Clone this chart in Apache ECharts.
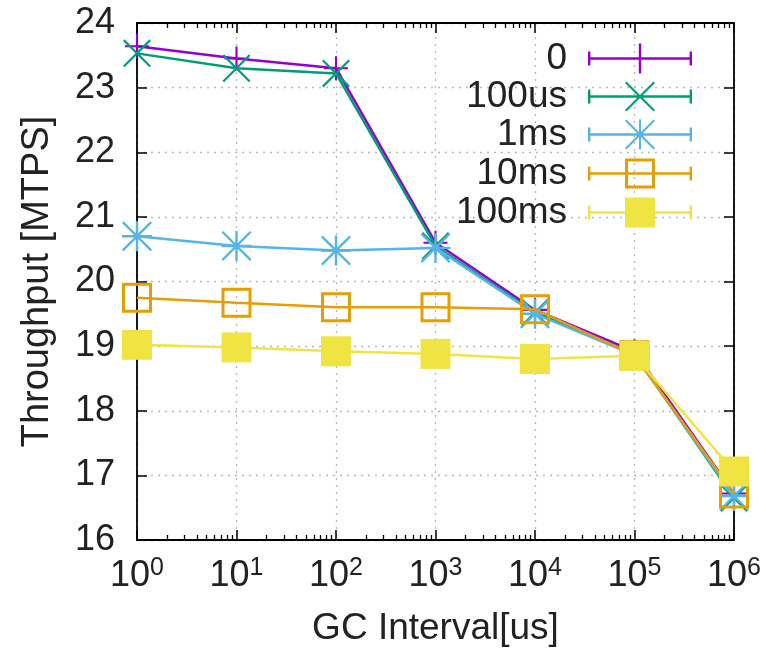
<!DOCTYPE html>
<html><head><meta charset="utf-8">
<script src="https://cdn.jsdelivr.net/npm/echarts@6/dist/echarts.min.js"></script>
<style>html,body{margin:0;padding:0;background:#fff}#c{width:766px;height:659px}</style>
</head><body><div id="c"></div>
<script>
// ---- data ----
const intervals = [1, 10, 100, 1000, 10000, 100000, 1000000];
const seriesNames = ['0', '100us', '1ms', '10ms', '100ms'];
const s0     = [23.64, 23.45, 23.30, 20.60, 19.56, 18.92, 16.72];
const s100us = [23.53, 23.30, 23.22, 20.55, 19.52, 18.88, 16.65];
const s1ms   = [20.70, 20.55, 20.48, 20.52, 19.50, 18.86, 16.68];
const s10ms  = [19.75, 19.67, 19.60, 19.60, 19.57, 18.86, 16.72];
const s100ms = [19.02, 18.98, 18.92, 18.88, 18.80, 18.85, 17.06];
const yTickLabels = [16, 17, 18, 19, 20, 21, 22, 23, 24];
const minorMultipliers = [2, 3, 4, 5, 6, 7, 8, 9];
const colors = ['#9400d3', '#009e73', '#56b4e9', '#e69f00', '#f0e442'];
const seriesValues = [s0, s100us, s1ms, s10ms, s100ms];

const minorTicks = [];
intervals.slice(0, -1).forEach(d => minorMultipliers.forEach(m => minorTicks.push(m * d)));

const FONT = 'Liberation Sans';
const FS = 36;
const TXT = '#222';

const symbols = [
  'path://M9.1,0H10.9V20H9.1ZM0,9.1H20V10.9H0Z',
  'path://M0,1.1L1.1,0L20,18.9L18.9,20ZM18.9,0L20,1.1L1.1,20L0,18.9Z',
  'path://M0,1.1L1.1,0L20,18.9L18.9,20ZM18.9,0L20,1.1L1.1,20L0,18.9ZM9.2,0H10.8V20H9.2ZM0,9.2H20V10.8H0Z',
  'path://M0,0H30V30H0ZM3,3V27H27V3Z',
  'rect'
];
const symbolSizes = [24, 28, 30, 30, 30];

const base = 'M0,13.7H104V16.3H0ZM0,8H2.4V22H0ZM101.6,8H104V22H101.6Z';
const legendIcons = [
  'path://' + base + 'M50.8,0H53.2V30H50.8Z',
  'path://' + base + 'M37,1.5L38.5,0L67,28.5L65.5,30ZM65.5,0L67,1.5L38.5,30L37,28.5Z',
  'path://' + base + 'M37,1.5L38.5,0L67,28.5L65.5,30ZM65.5,0L67,1.5L38.5,30L37,28.5ZM51,0H53V30H51Z',
  'path://' + base + 'M37,0H67V30H37ZM40,3V27H64V3Z',
  'path://' + base + 'M37,0H67V30H37Z'
];
const legendTops = [40, 78, 116, 155, 194];

const gridLine = { show: true, lineStyle: { color: '#b8b8b8', width: 1.3, type: [2, 5] } };
const axisLineStyle = { show: true, onZero: false, lineStyle: { color: '#000', width: 1.8 } };

const xCommon = { type: 'log', logBase: 10, min: 1, max: 1000000, gridIndex: 0 };

const option = {
  animation: false,
  backgroundColor: '#fff',
  textStyle: { fontFamily: FONT },
  grid: { left: 137, right: 32, top: 23, bottom: 119 },
  xAxis: [
    Object.assign({}, xCommon, {
      position: 'bottom',
      axisLine: axisLineStyle,
      axisTick: { show: true, inside: true, length: 10, lineStyle: { color: '#000', width: 1.5 } },
      splitLine: gridLine,
      minorTick: { show: false },
      axisLabel: {
        margin: 16,
        formatter: v => '{b|10}{s|' + Math.round(Math.log10(v)) + '}',
        rich: {
          b: { fontSize: FS, fontFamily: FONT, color: TXT, lineHeight: 38, verticalAlign: 'bottom' },
          s: { fontSize: 25, fontFamily: FONT, color: TXT, lineHeight: 38, verticalAlign: 'top', padding: [0, 0, 16, 0] }
        }
      },
      name: 'GC Interval[us]',
      nameLocation: 'middle',
      nameGap: 70,
      nameTextStyle: { fontSize: 37, fontFamily: FONT, color: TXT }
    }),
    Object.assign({}, xCommon, {
      position: 'bottom',
      axisLine: { show: false },
      axisLabel: { show: false },
      splitLine: { show: false },
      axisTick: { show: true, inside: true, length: 5, customValues: minorTicks, lineStyle: { color: '#000', width: 1.3 } }
    }),
    Object.assign({}, xCommon, {
      position: 'top',
      axisLine: axisLineStyle,
      axisLabel: { show: false },
      splitLine: { show: false },
      axisTick: { show: true, inside: true, length: 10, lineStyle: { color: '#000', width: 1.5 } }
    }),
    Object.assign({}, xCommon, {
      position: 'top',
      axisLine: { show: false },
      axisLabel: { show: false },
      splitLine: { show: false },
      axisTick: { show: true, inside: true, length: 5, customValues: minorTicks, lineStyle: { color: '#000', width: 1.3 } }
    })
  ],
  yAxis: [
    {
      type: 'value', min: yTickLabels[0], max: yTickLabels[yTickLabels.length - 1], interval: 1,
      position: 'left',
      axisLine: axisLineStyle,
      axisTick: { show: true, inside: true, length: 10, lineStyle: { color: '#000', width: 1.5 } },
      splitLine: gridLine,
      axisLabel: { margin: 22, fontSize: FS, fontFamily: FONT, color: TXT },
      name: 'Throughput [MTPS]',
      nameLocation: 'middle',
      nameGap: 80,
      nameRotate: 90,
      nameTextStyle: { fontSize: 38, fontFamily: FONT, color: TXT }
    },
    {
      type: 'value', min: yTickLabels[0], max: yTickLabels[yTickLabels.length - 1], interval: 1,
      position: 'right',
      axisLine: axisLineStyle,
      axisTick: { show: true, inside: true, length: 10, lineStyle: { color: '#000', width: 1.5 } },
      splitLine: { show: false },
      axisLabel: { show: false }
    }
  ],
  legend: seriesNames.map((n, i) => ({
    data: [{ name: n, icon: legendIcons[i] }],
    right: 74,
    top: legendTops[i],
    orient: 'vertical',
    align: 'right',
    itemWidth: 104,
    itemHeight: 30,
    padding: 0,
    itemStyle: { borderWidth: 0 },
    textStyle: { fontSize: 37, fontFamily: FONT, color: TXT, padding: [0, 16, 0, 0] },
    selectedMode: false
  })),
  series: seriesNames.map((n, i) => ({
    name: n,
    type: 'line',
    xAxisIndex: 0,
    yAxisIndex: 0,
    data: intervals.map((x, j) => [x, seriesValues[i][j]]),
    symbol: symbols[i],
    symbolSize: symbolSizes[i],
    showAllSymbol: true,
    itemStyle: { color: colors[i], borderWidth: 0 },
    lineStyle: { color: colors[i], width: 2.5 },
    z: 2 + i
  }))
};

const chart = echarts.init(document.getElementById('c'), null, { renderer: 'canvas' });
chart.setOption(option);
</script>
</body></html>
